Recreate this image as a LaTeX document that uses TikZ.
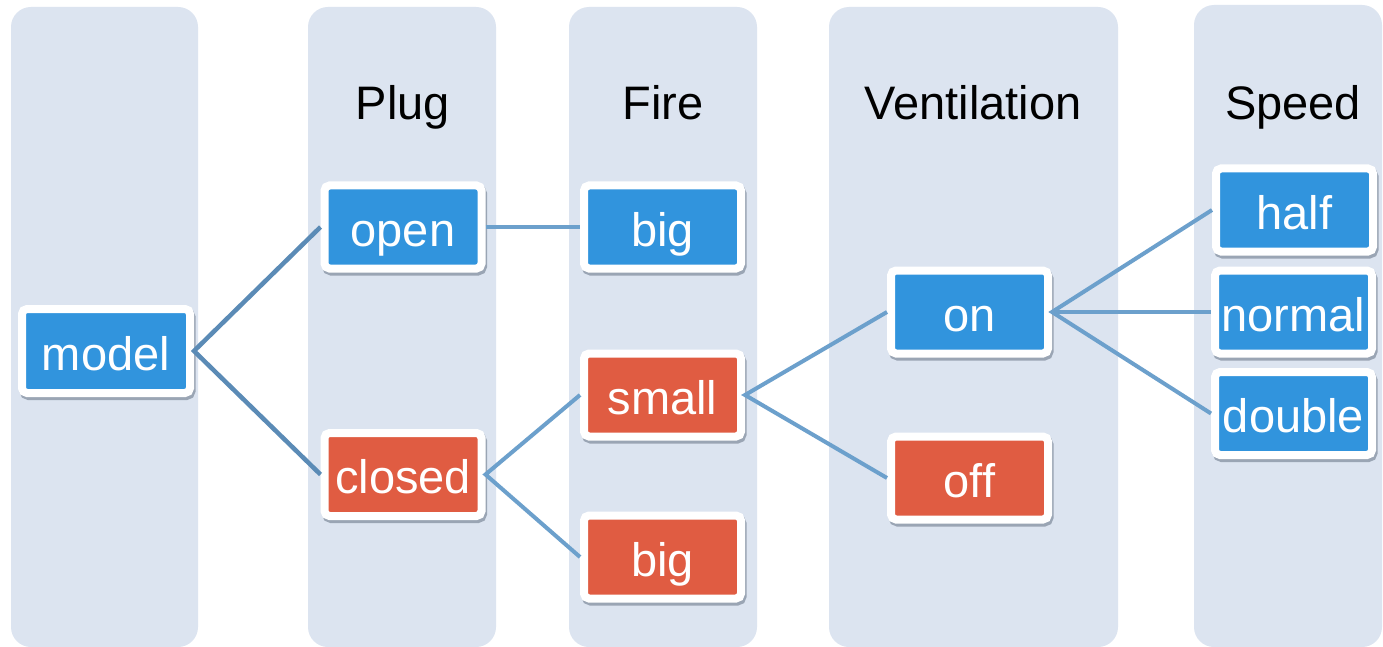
\documentclass[tikz,border=0pt]{standalone}
\usepackage{fontspec}
\setmainfont{Liberation Sans}
\definecolor{colbg}{HTML}{DCE4F0}
\definecolor{boxblue}{HTML}{3194DD}
\definecolor{boxred}{HTML}{E05C42}
\definecolor{linkdark}{HTML}{5B8BB6}
\definecolor{linklight}{HTML}{6CA0CC}
\definecolor{shadowgray}{HTML}{9AA5B4}
\tikzset{
  column/.style={fill=colbg, draw=none, rounded corners=20pt},
  heading/.style={anchor=base, font=\fontsize{47}{56}\selectfont, text=black},
  choice/.style={rectangle, draw=white, line width=8pt, rounded corners=5pt,
    minimum width=157pt, minimum height=83pt, inner sep=0pt,
    text height=38pt, text depth=0pt, text=white,
    font=\fontsize{47}{56}\selectfont,
    preaction={draw=shadowgray, fill=shadowgray, line width=8pt,
      transform canvas={shift={(1.5pt,-3pt)}}}},
  yes/.style={choice, fill=boxblue},
  no/.style={choice, fill=boxred},
  link/.style={draw=linklight, line width=4pt},
  rootlink/.style={draw=linkdark, line width=4.5pt}
}
\begin{document}
\begin{tikzpicture}[x=1pt, y=-1pt]
\useasboundingbox (0,0) rectangle (1383,647);
\fill[white] (0,0) rectangle (1383,647);

% column panels
\path[column] (11,7) rectangle (198,647);
\path[column] (308,7) rectangle (496,647);
\path[column] (569,7) rectangle (757,647);
\path[column] (829,7) rectangle (1118,647);
\path[column] (1194,5) rectangle (1382,647);

% column headings
\node[heading] (hplug) at (403,120) {Plug};
\node[heading] (hfire) at (663,120) {Fire};
\node[heading] (hvent) at (973,120) {Ventilation};
\node[heading] (hspeed) at (1293,120) {Speed};

% decision nodes
\node[yes, minimum width=168pt, minimum height=84pt] (model) at (106,351) {model};
\node[yes] (open) at (403,227) {open};
\node[no] (closed) at (403,474.5) {closed};
\node[yes] (bigA) at (662.5,227) {big};
\node[no] (small) at (662.5,395) {small};
\node[no] (bigB) at (662.5,557) {big};
\node[yes] (on) at (969.5,312) {on};
\node[no] (off) at (969.5,478) {off};
\node[yes] (half) at (1294.5,210) {half};
\node[yes] (normal) at (1293.5,312) {normal};
\node[yes] (double) at (1293.5,413.5) {double};

% connectors
\draw[rootlink] (open.west) -- (model.east) -- (closed.west);
\draw[link] (open.east) -- (bigA.west);
\draw[link] (small.west) -- (closed.east) -- (bigB.west);
\draw[link] (on.west) -- (small.east) -- (off.west);
\draw[link] (half.west) -- (on.east) -- (double.west);
\draw[link] (on.east) -- (normal.west);
\end{tikzpicture}
\end{document}
